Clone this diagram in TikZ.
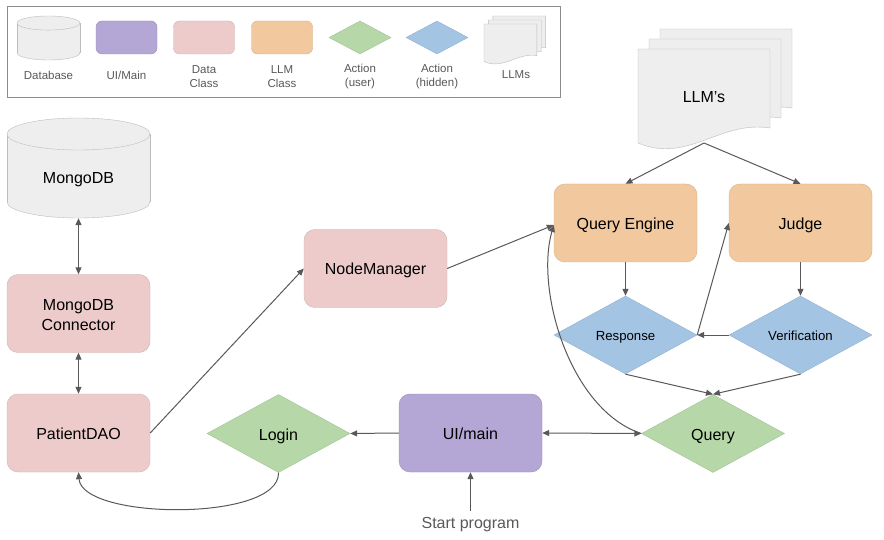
\documentclass[tikz,border=0pt]{standalone}
\usepackage{fontspec}
\setmainfont{Liberation Sans}
\usetikzlibrary{arrows.meta,shapes.geometric}
\definecolor{dbfill}{HTML}{EEEEEE}
\definecolor{dbline}{HTML}{BDBDBD}
\definecolor{uifill}{HTML}{B4A7D6}
\definecolor{datafill}{HTML}{EDCBCB}
\definecolor{llmfill}{HTML}{F2C99E}
\definecolor{userfill}{HTML}{B6D7A8}
\definecolor{hidfill}{HTML}{A4C4E4}
\definecolor{arrowc}{HTML}{595959}
\definecolor{graytext}{HTML}{595959}
\tikzset{
  >={Triangle[length=7pt,width=6pt]},
  arr/.style={draw=arrowc, line width=1pt},
  mainfont/.style={font=\fontsize{16}{20}\selectfont, text=black},
  oneline/.style={text height=16pt, text depth=3pt},
  smallfont/.style={font=\fontsize{13.2}{16}\selectfont, text=black, text height=14.4pt, text depth=3pt},
  bigbox/.style={rectangle, rounded corners=11pt, minimum width=143pt, minimum height=78pt, inner sep=0pt, align=center, mainfont},
  bigdia/.style={diamond, aspect=1.83, minimum width=143pt, minimum height=78pt, inner sep=0pt, align=center},
  uibox/.style={bigbox, oneline, fill=uifill, draw=uifill!85!black},
  databox/.style={bigbox, fill=datafill, draw=datafill!88!black},
  llmbox/.style={bigbox, oneline, fill=llmfill, draw=llmfill!88!black},
  useract/.style={bigdia, fill=userfill, draw=userfill!90!black, mainfont, oneline},
  hidact/.style={bigdia, fill=hidfill, draw=hidfill!90!black, smallfont},
  legrect/.style={rectangle, rounded corners=6pt, minimum width=61pt, minimum height=33pt, inner sep=0pt},
  legdia/.style={diamond, aspect=1.88, minimum width=62pt, minimum height=33pt, inner sep=0pt},
  leglabel/.style={font=\fontsize{11.5}{14}\selectfont, text=graytext, align=center, inner sep=0pt},
  dbcyl/.pic={
    \fill[dbfill] (0,16) rectangle (143,84);
    \fill[dbfill] (71.5,84) ellipse [x radius=71.5, y radius=16];
    \draw[dbline] (0,16) -- (0,84) (143,16) -- (143,84);
    \begin{scope}
      \clip (-3,84) rectangle (146,104);
      \draw[dbline] (71.5,84) ellipse [x radius=71.5, y radius=16];
    \end{scope}
    \draw[dbline, fill=dbfill] (71.5,16) ellipse [x radius=71.5, y radius=16];
  },
  docstack/.pic={
    \foreach \d in {2,1,0} {
      \draw[dbline, fill=dbfill] ({11*\d},{-10*\d}) -- ++(132,0) -- ++(0,79)
        .. controls +(-50,-8) and +(50,21) .. ++(-132,15) -- cycle;
    }
  }
}
\begin{document}
\begin{tikzpicture}[x=1pt,y=-1pt]
\useasboundingbox (0,0) rectangle (884,540);
\fill[white] (0,0) rectangle (884,540);

% ---------- legend ----------
\draw[black!45, line width=1pt, fill=white] (7,7) rectangle (560,98);
\pic[scale=0.44] at (17,16) {dbcyl};
\node[legrect, fill=uifill, draw=uifill!85!black] (lui) at (126.5,37.5) {};
\node[legrect, fill=datafill, draw=datafill!88!black] (ldata) at (204,37.5) {};
\node[legrect, fill=llmfill, draw=llmfill!88!black] (lllm) at (282,37.5) {};
\node[legdia, fill=userfill, draw=userfill!90!black] (luser) at (360,37.5) {};
\node[legdia, fill=hidfill, draw=hidfill!90!black] (lhid) at (437,37.5) {};
\pic[scale=0.4] at (484,24) {docstack};
\node[leglabel] (tdb) at (48.5,75) {Database};
\node[leglabel] (tui) at (126.5,75) {UI/Main};
\node[leglabel] (tdata) at (204,77) {Data\\Class};
\node[leglabel] (tllm) at (282,77) {LLM\\Class};
\node[leglabel] (tuser) at (360,77) {Action\\(user)};
\node[leglabel] (thid) at (437,77) {Action\\(hidden)};
\node[leglabel] (tllms) at (516,75) {LLMs};

% ---------- main shapes ----------
\pic at (7,118) {dbcyl};
\node[minimum width=143pt, minimum height=100pt, inner sep=0pt] (mongo) at (78.5,168) {};
\node[mainfont, oneline, inner sep=0pt] (mongotext) at (78.5,177) {MongoDB};
\node[databox, text height=37.5pt, text depth=3pt] (conn) at (78.5,313.5) {MongoDB\\Connector};
\node[databox, oneline] (dao) at (78.5,433) {PatientDAO};
\node[databox, oneline] (nodemgr) at (375.5,268.5) {NodeManager};
\node[useract] (login) at (278.5,433.5) {Login};
\node[uibox] (ui) at (470.5,433) {UI/main};
\node[useract] (query) at (713,433.5) {Query};
\node[llmbox] (qe) at (625.5,223) {Query Engine};
\node[llmbox] (judge) at (800.5,223) {Judge};
\node[hidact] (resp) at (625.5,335) {Response};
\node[hidact] (verif) at (800.5,335) {Verification};
\pic at (638,49) {docstack};
\node[mainfont, inner sep=0pt] (llms) at (704,97) {LLM’s};
\coordinate (llmbot) at (704,143);
\node[font=\fontsize{16}{19}\selectfont, text=graytext, inner sep=0pt] (start) at (470.5,524.5) {Start program};

% ---------- connectors ----------
\draw[arr, <->] (mongo.south) -- (conn.north);
\draw[arr, <->] (conn.south) -- (dao.north);
\draw[arr, ->] (dao.east) -- (nodemgr.west);
\draw[arr, ->] (nodemgr.east) -- ([yshift=-2pt]qe.west);
\draw[arr, ->] (ui.west) -- (login.east);
\draw[arr, ->] (login.south) .. controls (280,522) and (82,520) .. (dao.south);
\draw[arr, <->] (ui.east) -- (query.west);
\draw[arr, ->] (query.west) .. controls (570,410) and (535,290) .. ([yshift=-2pt]qe.west);
\draw[arr, ->] (qe.south) -- (resp.north);
\draw[arr, ->] (judge.south) -- (verif.north);
\draw[arr, ->] (verif.west) -- (resp.east);
\draw[arr, ->] (resp.east) -- (judge.west);
\draw[arr, ->] (resp.south) -- (query.north);
\draw[arr, ->] (verif.south) -- (query.north);
\draw[arr, ->] (llmbot) -- (qe.north);
\draw[arr, ->] (llmbot) -- (judge.north);
\draw[arr, ->] ([yshift=6pt]start.north) -- (ui.south);
\end{tikzpicture}
\end{document}
